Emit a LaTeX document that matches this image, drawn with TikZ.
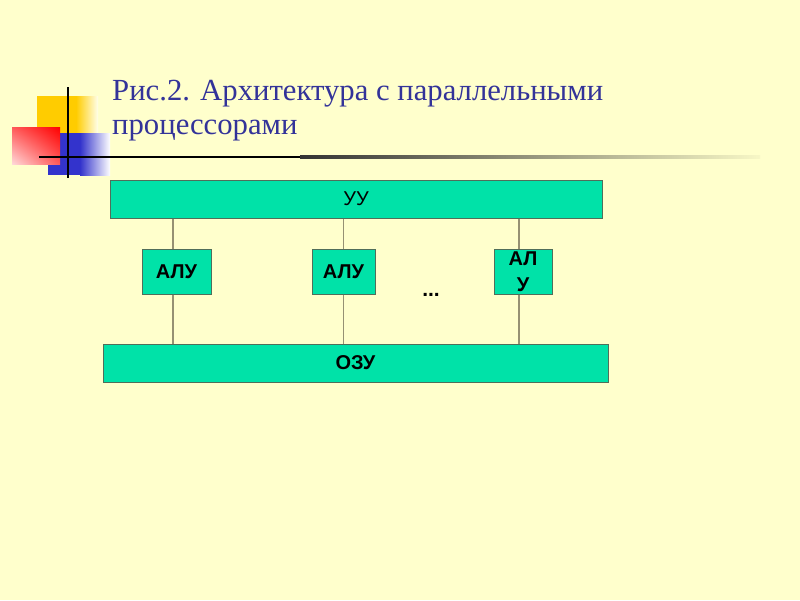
\documentclass[tikz,border=0pt]{standalone}
\usepackage{fontspec}
\usetikzlibrary{shadings}
\setmainfont{Liberation Serif}
\newfontfamily\boxfont{Liberation Sans}
\definecolor{bg}{RGB}{255,255,204}
\definecolor{titleblue}{RGB}{51,51,153}
\definecolor{boxfill}{RGB}{0,226,168}
\definecolor{boxline}{RGB}{80,110,90}
\definecolor{wire}{RGB}{150,145,115}
\definecolor{sqyellow}{RGB}{255,204,0}
\definecolor{sqred}{RGB}{255,0,0}
\definecolor{sqblue}{RGB}{51,51,204}
\tikzset{
  block/.style={draw=boxline, line width=1pt, fill=boxfill, inner sep=0pt, font=\boxfont\fontsize{20}{24}\selectfont},
  bblock/.style={block, font=\boxfont\bfseries\fontsize{20}{24}\selectfont},
  wireline/.style={draw=wire, line width=1.3pt}
}
\begin{document}
\begin{tikzpicture}[x=1pt,y=-1pt]
\fill[bg] (0,0) rectangle (800,600);
\useasboundingbox (0,0) rectangle (800,600);
% decorative squares
\fill[sqyellow] (37,96) rectangle (76,157);
\shade[left color=sqyellow, right color=white!60!bg] (76,96) rectangle (98,157);
\fill[sqblue] (48,133) rectangle (80,175);
\shade[left color=sqblue, right color=white] (80,133) rectangle (110,175);
\shade[lower left=white!85!sqred, upper right=sqred, lower right=sqred!65!white, upper left=sqred!65!white] (12,127) rectangle (60,164);
\fill[black] (39,155.8) rectangle (300,158.2);
\shade[left color=black!80, right color=black!3!bg] (300,155.8) rectangle (760,158.2);
\draw[black, line width=2pt] (68,87) -- (68,178);
% title
\node[anchor=base west, text=titleblue, font=\fontsize{30.7}{36}\selectfont, inner sep=0pt] (t1) at (112,100) {Рис.2. Архитектура с параллельными};
\node[anchor=base west, text=titleblue, font=\fontsize{30.7}{36}\selectfont, inner sep=0pt] (t2) at (112,134) {процессорами};
% blocks
\node[block, minimum width=492pt, minimum height=38pt] (uu) at (356,199) {УУ};
\node[bblock, minimum width=69pt, minimum height=45pt] (a1) at (176.5,271.5) {АЛУ};
\node[bblock, minimum width=63pt, minimum height=45pt] (a2) at (343.5,271.5) {АЛУ};
\node[bblock, minimum width=58pt, minimum height=45pt, align=center] (a3) at (523,271.5) {АЛ\\[1.5pt]У};
\node[bblock, minimum width=505pt, minimum height=38pt] (ozu) at (355.5,363) {ОЗУ};
\node[font=\boxfont\bfseries\fontsize{21}{24}\selectfont, inner sep=0pt] (dots) at (431,295) {...};
% wires
\draw[wireline] (uu.south -| 173,0) -- (a1.north -| 173,0);
\draw[wireline] (a1.south -| 173,0) -- (ozu.north -| 173,0);
\draw[wireline] (uu.south -| a2.north) -- (a2.north);
\draw[wireline] (a2.south) -- (ozu.north -| a2.south);
\draw[wireline] (uu.south -| 519,0) -- (a3.north -| 519,0);
\draw[wireline] (a3.south -| 519,0) -- (ozu.north -| 519,0);
\end{tikzpicture}
\end{document}
